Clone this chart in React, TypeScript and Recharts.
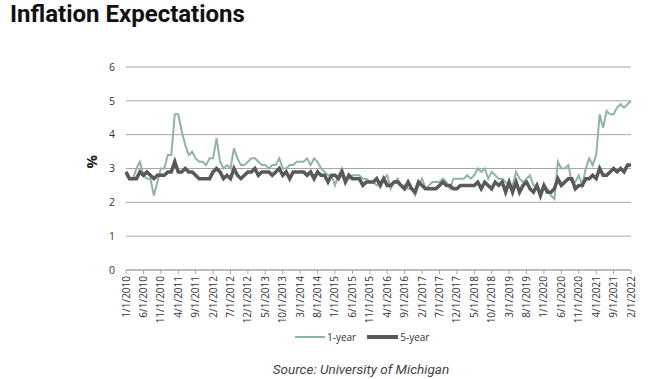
import React from 'react';
import { LineChart, Line, XAxis, YAxis, CartesianGrid, Legend } from 'recharts';

// Monthly observations, Jan 2010 .. Feb 2022
const startYear = 2010;
const monthCount = 146;
const months: string[] = [];
for (let i = 0; i < monthCount; i++) {
  const y = startYear + Math.floor(i / 12);
  const m = (i % 12) + 1;
  months.push(`${m}/1/${y}`);
}

const oneYear: number[] = [
  2.8, 2.7, 2.7, 3.0, 3.2, 2.8, 2.7, 2.7, 2.2, 2.6, 3.0, 3.0,
  3.4, 3.4, 4.6, 4.6, 4.1, 3.7, 3.4, 3.5, 3.3, 3.2, 3.2, 3.1,
  3.3, 3.3, 3.9, 3.2, 3.0, 3.1, 3.0, 3.6, 3.3, 3.1, 3.1, 3.2,
  3.3, 3.3, 3.2, 3.1, 3.1, 3.0, 3.1, 3.1, 3.3, 3.0, 3.0, 3.1,
  3.1, 3.2, 3.2, 3.2, 3.3, 3.1, 3.3, 3.2, 3.0, 2.9, 2.8, 2.8,
  2.5, 2.8, 3.0, 2.7, 2.7, 2.8, 2.8, 2.8, 2.7, 2.7, 2.6, 2.6,
  2.5, 2.6, 2.7, 2.8, 2.4, 2.6, 2.7, 2.5, 2.5, 2.4, 2.4, 2.2,
  2.5, 2.7, 2.4, 2.5, 2.6, 2.6, 2.6, 2.7, 2.6, 2.4, 2.7, 2.7,
  2.7, 2.7, 2.8, 2.7, 2.8, 3.0, 2.9, 3.0, 2.7, 2.9, 2.8, 2.7,
  2.7, 2.6, 2.5, 2.5, 2.9, 2.7, 2.6, 2.7, 2.8, 2.5, 2.5, 2.3,
  2.5, 2.4, 2.2, 2.1, 3.2, 3.0, 3.0, 3.1, 2.6, 2.6, 2.8, 2.5,
  3.0, 3.3, 3.1, 3.4, 4.6, 4.2, 4.7, 4.6, 4.6, 4.8, 4.9, 4.8,
  4.9, 5.0,
];

const fiveYear: number[] = [
  2.9, 2.7, 2.7, 2.7, 2.9, 2.8, 2.9, 2.8, 2.7, 2.8, 2.8, 2.8,
  2.9, 2.9, 3.2, 2.9, 2.9, 3.0, 2.9, 2.9, 2.8, 2.7, 2.7, 2.7,
  2.7, 2.9, 3.0, 2.9, 2.7, 2.8, 2.7, 3.0, 2.8, 2.7, 2.8, 2.9,
  2.9, 3.0, 2.8, 2.9, 2.9, 2.9, 2.8, 2.9, 3.0, 2.8, 2.9, 2.7,
  2.9, 2.9, 2.9, 2.9, 2.8, 2.9, 2.7, 2.9, 2.8, 2.8, 2.6, 2.8,
  2.8, 2.7, 2.9, 2.6, 2.8, 2.7, 2.7, 2.7, 2.5, 2.6, 2.6, 2.6,
  2.7, 2.5, 2.7, 2.5, 2.5, 2.6, 2.6, 2.5, 2.4, 2.6, 2.4, 2.3,
  2.6, 2.5, 2.4, 2.4, 2.4, 2.4, 2.5, 2.6, 2.5, 2.5, 2.4, 2.4,
  2.5, 2.5, 2.5, 2.5, 2.5, 2.6, 2.4, 2.6, 2.5, 2.4, 2.6, 2.5,
  2.6, 2.3, 2.6, 2.3, 2.6, 2.3, 2.5, 2.6, 2.4, 2.3, 2.5, 2.2,
  2.5, 2.3, 2.3, 2.4, 2.7, 2.5, 2.6, 2.7, 2.7, 2.4, 2.5, 2.5,
  2.7, 2.7, 2.8, 2.7, 3.0, 2.8, 2.8, 2.9, 3.0, 2.9, 3.0, 2.9,
  3.1, 3.1,
];

const yTicks = [0, 1, 2, 3, 4, 5, 6];

const data = months.map((date, i) => ({
  date,
  oneYear: oneYear[i],
  fiveYear: fiveYear[i],
}));

const GREEN = '#8fb4a3';
const DARK = '#595959';

const XTick = (props: any) => {
  const { x, y, payload } = props;
  return (
    <g transform={`translate(${x},${y})`}>
      <text
        x={0}
        y={0}
        dy={3.5}
        transform="rotate(-90)"
        textAnchor="end"
        fontSize={10}
        fontFamily="'Open Sans', sans-serif"
        fill="#333"
      >
        {payload.value}
      </text>
    </g>
  );
};

const renderLegend = () => (
  <div
    style={{
      display: 'flex',
      alignItems: 'center',
      height: 20,
      paddingLeft: 295,
      fontFamily: "'Open Sans', sans-serif",
      fontSize: 10,
      color: '#333',
    }}
  >
    <span style={{ display: 'inline-block', width: 30, height: 2, background: GREEN }} />
    <span style={{ marginLeft: 2 }}>1-year</span>
    <span style={{ display: 'inline-block', width: 31, height: 4, background: DARK, marginLeft: 11 }} />
    <span style={{ marginLeft: 2 }}>5-year</span>
  </div>
);

export default function App() {
  return (
    <div style={{ position: 'absolute', left: 0, top: 0, width: 654, height: 379, background: '#fff' }}>
      <div
        style={{
          position: 'absolute',
          left: 10,
          top: 1.5,
          fontFamily: 'Roboto, sans-serif',
          fontWeight: 700,
          fontSize: 24,
          lineHeight: '24px',
          color: '#111',
          whiteSpace: 'nowrap',
        }}
      >
        Inflation Expectations
      </div>
      <LineChart
        width={654}
        height={379}
        data={data}
        margin={{ top: 67, right: 23, left: 0, bottom: 25 }}
      >
        <CartesianGrid vertical={false} stroke="#a6a6a6" strokeWidth={1} />
        <XAxis
          dataKey="date"
          interval={4}
          height={64}
          tickSize={4}
          tickMargin={2}
          tick={<XTick />}
          stroke="#a6a6a6"
          tickLine={{ stroke: '#a6a6a6' }}
        />
        <YAxis
          width={126}
          domain={[0, 6]}
          ticks={yTicks}
          axisLine={false}
          tickLine={false}
          tickSize={0}
          tickMargin={11}
          tick={{ fontSize: 10.5, fill: '#333', fontFamily: "'Open Sans', sans-serif" }}
          label={{
            value: '%',
            angle: -90,
            position: 'insideLeft',
            offset: 92,
            style: { fontSize: 15, fontWeight: 700, fill: '#222', fontFamily: "'Open Sans', sans-serif" },
          }}
        />
        <Legend
          verticalAlign="bottom"
          content={renderLegend}
          wrapperStyle={{ left: 0, width: 654, top: 327, bottom: 'auto' }}
        />
        <Line
          type="linear"
          dataKey="oneYear"
          name="1-year"
          stroke={GREEN}
          strokeWidth={2}
          dot={false}
          isAnimationActive={false}
        />
        <Line
          type="linear"
          dataKey="fiveYear"
          name="5-year"
          stroke={DARK}
          strokeWidth={3.5}
          dot={false}
          isAnimationActive={false}
        />
      </LineChart>
      <div
        style={{
          position: 'absolute',
          left: 0,
          width: 654,
          paddingLeft: 68,
          boxSizing: 'border-box',
          top: 362,
          textAlign: 'center',
          fontFamily: 'Roboto, sans-serif',
          fontStyle: 'italic',
          fontSize: 13.5,
          lineHeight: '14px',
          color: '#444',
        }}
      >
        Source: University of Michigan
      </div>
    </div>
  );
}
